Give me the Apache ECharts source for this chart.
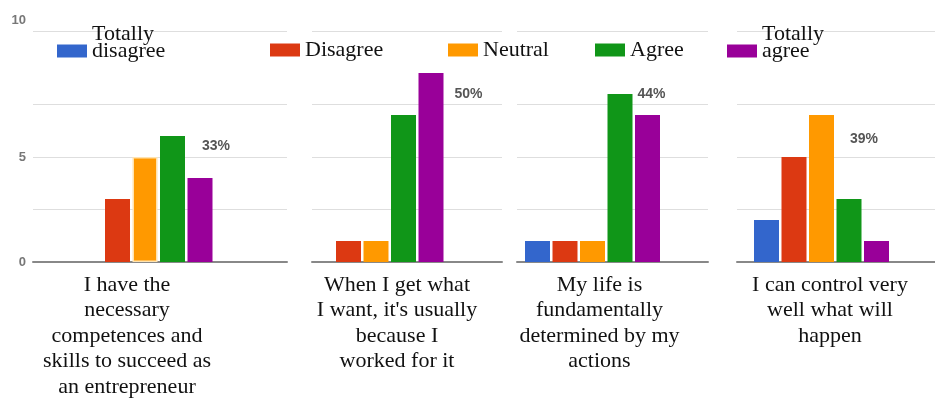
<!DOCTYPE html>
<html>
<head>
<meta charset="utf-8">
<script src="https://cdn.jsdelivr.net/npm/echarts@6/dist/echarts.min.js"></script>
<style>
  html, body { margin: 0; padding: 0; background: #ffffff; }
  #chart { width: 935px; height: 408px; }
</style>
</head>
<body>
<div id="chart"></div>
<script>
// Survey statements (one small bar chart per statement)
const statements = [
  'I have the\nnecessary\ncompetences and\nskills to succeed as\nan entrepreneur',
  'When I get what\nI want, it\'s usually\nbecause I\nworked for it',
  'My life is\nfundamentally\ndetermined by my\nactions',
  'I can control very\nwell what will\nhappen'
];

// Answer levels (legend order)
const levels = ['Totally disagree', 'Disagree', 'Neutral', 'Agree', 'Totally agree'];

// Number of answers per level, one value per statement
const totallyDisagree = [0, 0, 1, 2];
const disagree        = [3, 1, 1, 5];
const neutral         = [5, 1, 1, 7];
const agree           = [6, 7, 8, 3];
const totallyAgree    = [4, 9, 7, 1];

// Labelled y ticks
const yTickLabels = [0, 5, 10];

const counts = [totallyDisagree, disagree, neutral, agree, totallyAgree];
const palette = ['#3366cc', '#dc3912', '#ff9900', '#109618', '#990099'];

// Panel layout: grid extent, label shift, trailing gap width, percent label offset
const panels = [
  { left: 33,  width: 254, labelShift: -33, trail: 27.5, pct: [42, 10] },
  { left: 312, width: 190, labelShift: -10, trail: 59.5, pct: [36, 21] },
  { left: 517, width: 191, labelShift: -13, trail: 37.5, pct: [30, 0] },
  { left: 737, width: 198, labelShift: -6,  trail: 26.5, pct: [41, 24] }
];

const serif = 'Liberation Serif, Times New Roman, serif';
const sans = 'Liberation Sans, Arial, sans-serif';
const gridColor = '#dedede';

const grids = [], xAxes = [], yAxes = [], series = [];

panels.forEach((p, i) => {
  grids.push({ left: p.left, width: p.width, top: 31, bottom: 146, outerBoundsMode: 'none', containLabel: false });

  const shift = Math.abs(p.labelShift) * 2;
  xAxes.push({
    gridIndex: i,
    type: 'category',
    data: [statements[i]],
    axisTick: { show: false },
    axisLine: { lineStyle: { color: '#888888', width: 2 } },
    axisLabel: {
      interval: 0,
      margin: 10,
      fontFamily: serif,
      fontSize: 22,
      lineHeight: 25.5,
      color: '#111111',
      align: 'center',
      padding: p.labelShift < 0 ? [0, shift, 0, 0] : [0, 0, 0, shift]
    }
  });

  yAxes.push({
    gridIndex: i,
    type: 'value',
    min: 0,
    max: 11,
    interval: 2.5,
    axisLine: { show: false },
    axisTick: { show: false },
    splitLine: {
      lineStyle: {
        color: [gridColor, gridColor, gridColor, gridColor, 'rgba(0,0,0,0)', gridColor],
        width: 1
      }
    },
    axisLabel: {
      show: i === 0,
      margin: 7,
      fontFamily: sans,
      fontSize: 13,
      fontWeight: 'bold',
      color: '#777777',
      lineHeight: 16,
      formatter: v => yTickLabels.includes(v) ? (v === 10 ? '10\n\n\n\n' : String(v)) : ''
    }
  });
});

// Bars: one series per answer level and statement
levels.forEach((name, j) => {
  panels.forEach((p, i) => {
    const vals = counts.map(c => c[i]);
    const total = vals.reduce((a, b) => a + b, 0);
    const top = Math.max(...vals);
    const topIdx = vals.indexOf(top);
    const item = { value: counts[j][i] };
    if (j === topIdx) {
      item.label = {
        show: true,
        formatter: Math.round(top / total * 100) + '%',
        position: p.pct,
        align: 'left',
        verticalAlign: 'middle',
        fontFamily: sans,
        fontSize: 14,
        fontWeight: 'bold',
        color: '#555555'
      };
    }
    if (i === 0 && j === 2) {
      // highlighted bar
      item.itemStyle = { borderColor: '#ffe3b0', borderWidth: 1.5 };
    }
    series.push({
      type: 'bar',
      name: name,
      xAxisIndex: i,
      yAxisIndex: i,
      barWidth: 25,
      barGap: '10%',
      itemStyle: { color: palette[j] },
      data: [item]
    });
  });
});

// Empty trailing slot per panel, leaves room on the right of each group
panels.forEach((p, i) => {
  series.push({
    type: 'bar',
    name: 'gap',
    xAxisIndex: i,
    yAxisIndex: i,
    barWidth: p.trail,
    barGap: '10%',
    silent: true,
    data: ['-']
  });
});

// One legend block per level; two-word names wrap, swatch sits beside the second line
const legendPos = [
  { left: 57,  top: 23, wrap: true },
  { left: 270, top: 39, wrap: false },
  { left: 448, top: 39, wrap: false },
  { left: 595, top: 39, wrap: false },
  { left: 727, top: 23, wrap: true }
];
const legends = levels.map((name, j) => {
  const lp = legendPos[j];
  return {
    data: [name],
    left: lp.left,
    top: lp.top,
    padding: 0,
    icon: 'rect',
    itemWidth: 30,
    itemHeight: 13,
    formatter: lp.wrap ? (n => n.replace(' ', '\n') + '\n ') : (n => n),
    textStyle: {
      fontFamily: serif,
      fontSize: 22,
      color: '#111111',
      lineHeight: lp.wrap ? 17 : 21
    }
  };
});

const chart = echarts.init(document.getElementById('chart'), null, { renderer: 'canvas' });
chart.setOption({
  animation: false,
  backgroundColor: '#ffffff',
  color: palette,
  legend: legends,
  grid: grids,
  xAxis: xAxes,
  yAxis: yAxes,
  series: series
});
</script>
</body>
</html>
